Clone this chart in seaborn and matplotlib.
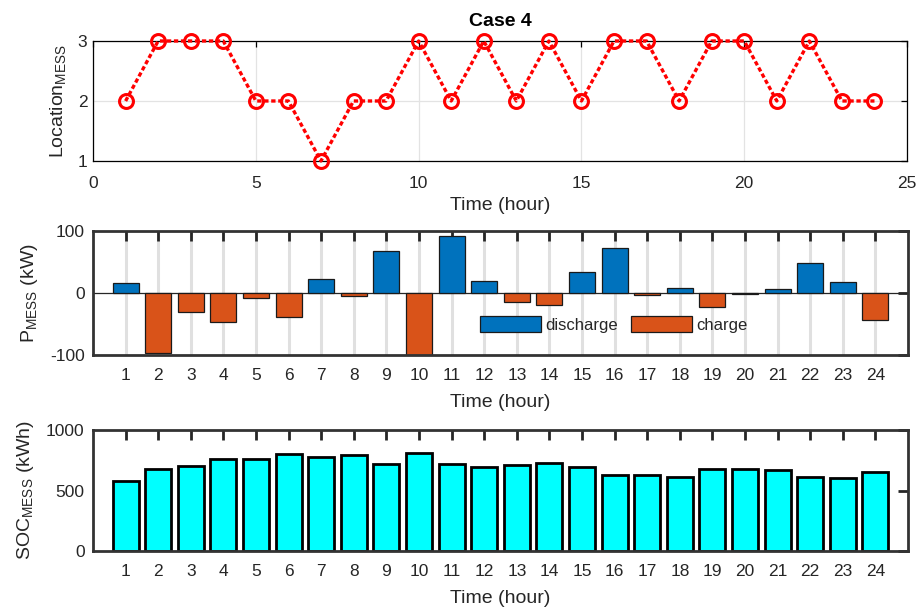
import numpy as np
import pandas as pd
import matplotlib
matplotlib.use("Agg")
import matplotlib.pyplot as plt
import seaborn as sns

# ---------------- data ----------------
hours = list(range(1, 25))
location = [2, 3, 3, 3, 2, 2, 1, 2, 2, 3, 2, 3, 2, 3, 2, 3, 3, 2, 3, 3, 2, 3, 2, 2]
p_mess = [16, -96, -31, -46, -8, -38, 22, -5, 68, -100, 92, 19,
          -15, -19, 34, 72, -3, 8, -23, -2, 6, 49, 17, -44]
soc_mess = [580, 675, 705, 758, 758, 799, 774, 791, 716, 810, 722, 694,
            708, 730, 694, 624, 625, 614, 675, 675, 667, 614, 603, 650]
kind_labels = ["discharge", "charge"]
top_xticks = [0, 5, 10, 15, 20, 25]
top_yticks = [1, 2, 3]
mid_yticks = [-100, 0, 100]
bot_yticks = [0, 500, 1000]

# ---------------- style ----------------
sns.set_theme(style="white")
plt.rcParams["font.family"] = ["Liberation Sans", "DejaVu Sans"]
plt.rcParams["mathtext.default"] = "regular"
plt.rcParams["axes.unicode_minus"] = False
TXT = "#262626"
plt.rcParams["text.color"] = TXT
plt.rcParams["axes.labelcolor"] = TXT
plt.rcParams["xtick.color"] = TXT
plt.rcParams["ytick.color"] = TXT

TICK_FS = 12.5
LAB_FS = 14

fig = plt.figure(figsize=(9.23, 6.10), dpi=100)
ax1 = fig.add_axes([0.1008, 0.7361, 0.8819, 0.1967])
ax2 = fig.add_axes([0.1008, 0.4180, 0.8830, 0.2033])
ax3 = fig.add_axes([0.1008, 0.0967, 0.8830, 0.1984])

# ---------------- top: location ----------------
df_loc = pd.DataFrame({"hour": hours, "loc": location})
sns.lineplot(data=df_loc, x="hour", y="loc", ax=ax1, color="red",
             linestyle=(0, (1.3, 0.8)), linewidth=2.4,
             marker="o", markersize=10, markerfacecolor="none",
             markeredgecolor="red", markeredgewidth=2.2,
             clip_on=False, zorder=5)
ax1.set_xlim(0, 25)
ax1.set_ylim(1, 3)
ax1.set_xticks(top_xticks)
ax1.set_yticks(top_yticks)
ax1.grid(True, color="#e3e3e3", linewidth=0.9)
ax1.set_axisbelow(True)
for s in ax1.spines.values():
    s.set_color("black")
    s.set_linewidth(0.9)
ax1.tick_params(axis="both", direction="in", top=True, right=True,
                length=4, width=0.9, labelsize=TICK_FS, color="black")
ax1.tick_params(axis="x", pad=10.5)
ax1.tick_params(axis="y", pad=4)
ax1.set_xlabel("Time (hour)", fontsize=LAB_FS, labelpad=4.5)
ax1.set_ylabel(r"Location$_{MESS}$", fontsize=LAB_FS, labelpad=7)
ax1.set_title("Case 4", fontsize=14, fontweight="bold", pad=11, color="black")

# ---------------- middle: power ----------------
df_p = pd.DataFrame({"hour": hours, "P": p_mess,
                     "kind": [kind_labels[0] if v > 0 else kind_labels[1] for v in p_mess]})
ax2.grid(True, axis="x", color="#e0e0e0", linewidth=2.2)
ax2.set_axisbelow(True)
ax2.axhline(0, color=TXT, linewidth=0.9, zorder=1.5)
sns.barplot(data=df_p, x="hour", y="P", hue="kind", hue_order=kind_labels,
            palette={kind_labels[0]: "#0072BD", kind_labels[1]: "#D95319"},
            native_scale=True, dodge=False, width=0.8, errorbar=None,
            edgecolor="#1a1a1a", linewidth=0.9, saturation=1, ax=ax2, zorder=2)
ax2.set_xlim(0, 25)
ax2.set_ylim(-100, 100)
ax2.set_xticks(hours)
ax2.set_yticks(mid_yticks)
for s in ax2.spines.values():
    s.set_color("#333333")
    s.set_linewidth(2.0)
ax2.tick_params(axis="both", direction="in", top=True, right=True,
                length=7, width=2.0, labelsize=TICK_FS, color="#262626")
ax2.tick_params(axis="x", pad=9.5)
ax2.tick_params(axis="y", pad=6)
ax2.set_xlabel("Time (hour)", fontsize=LAB_FS, labelpad=8)
ax2.set_ylabel(r"P$_{MESS}$ (kW)", fontsize=LAB_FS, labelpad=7)
handles, labels = ax2.get_legend_handles_labels()
ax2.legend(handles, labels, loc="center", bbox_to_anchor=(0.639, 0.246),
           ncol=2, frameon=False, fontsize=12, handlelength=3.65,
           handleheight=1.05, handletextpad=0.3, columnspacing=0.75,
           borderpad=0.2)

# ---------------- bottom: SOC ----------------
df_s = pd.DataFrame({"hour": hours, "SOC": soc_mess})
sns.barplot(data=df_s, x="hour", y="SOC", native_scale=True, width=0.8,
            errorbar=None, color="#00FFFF", saturation=1,
            edgecolor="black", linewidth=2.0, ax=ax3)
ax3.set_xlim(0, 25)
ax3.set_ylim(0, 1000)
ax3.set_xticks(hours)
ax3.set_yticks(bot_yticks)
for s in ax3.spines.values():
    s.set_color("#333333")
    s.set_linewidth(2.0)
ax3.tick_params(axis="both", direction="in", top=True, right=True,
                length=7, width=2.0, labelsize=TICK_FS, color="#262626")
ax3.tick_params(axis="x", pad=9.5)
ax3.tick_params(axis="y", pad=6)
ax3.set_xlabel("Time (hour)", fontsize=LAB_FS, labelpad=8)
ax3.set_ylabel(r"SOC$_{MESS}$ (kWh)", fontsize=LAB_FS, labelpad=7)

fig.savefig("out.png", dpi=100)
